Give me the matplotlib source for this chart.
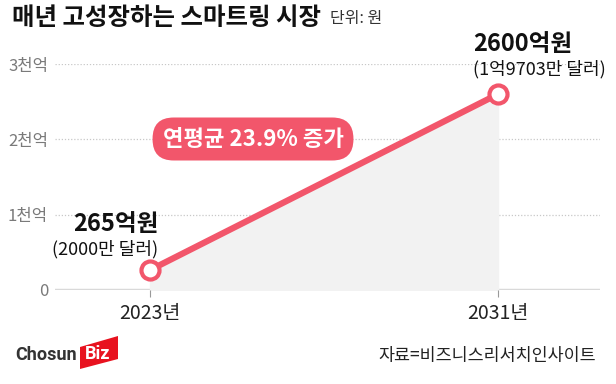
import matplotlib
matplotlib.use('Agg')
import matplotlib.pyplot as plt
from matplotlib.patches import Polygon

plt.rcParams['font.family'] = ['Noto Sans CJK KR', 'DejaVu Sans']

# data (억원)
years = ['2023년', '2031년']
values = [265, 2600]
value_labels = ['265억원', '2600억원']
dollar_labels = ['(2000만 달러)', '(1억9703만 달러)']
y_ticks = [0, 1000, 2000, 3000]
y_tick_labels = ['0', '1천억', '2천억', '3천억']

pink = '#f2566b'
W, H = 616, 384

fig = plt.figure(figsize=(W / 100, H / 100), dpi=100)
ax = fig.add_axes([55 / W, 1 - 290 / H, 545 / W, 226 / H])

x = [0, 1]
ax.set_xlim(-0.273, 1.293)
ax.set_ylim(0, 3000)

# grid
for t in y_ticks[1:]:
    ax.axhline(t, color='#c8c8c8', lw=0.9, ls=(0, (1, 1.5)), zorder=0)
ax.axhline(0, color='#d9d9d9', lw=2.5, zorder=1)

# area + line
ax.fill_between(x, values, 0, color='#f2f2f2', zorder=1)
ax.plot(x, values, color=pink, lw=4.5, zorder=3, solid_capstyle='butt')
ax.plot(x, values, 'o', ms=13, mfc='white', mec=pink, mew=3, zorder=4, clip_on=False)

# ticks
ax.set_yticks(y_ticks)
ax.set_yticklabels(y_tick_labels, fontsize=12, color='#7a7a7a')
ax.set_xticks(x)
ax.set_xticklabels(years, fontsize=14, color='#222222')
ax.tick_params(axis='y', length=0, pad=5)
ax.tick_params(axis='x', length=5, color='#999999', width=0.8, pad=4)
for s in ax.spines.values():
    s.set_visible(False)

# value annotations
ax.annotate(value_labels[0], (x[0], values[0]), xytext=(6, 33), textcoords='offset points',
            ha='right', va='center', fontsize=17, fontweight='bold', color='#111111')
ax.annotate(dollar_labels[0], (x[0], values[0]), xytext=(6, 15), textcoords='offset points',
            ha='right', va='center', fontsize=13, color='#111111')
ax.annotate(value_labels[1], (x[1], values[1]), xytext=(-18, 36), textcoords='offset points',
            ha='left', va='center', fontsize=17, fontweight='bold', color='#111111',
            annotation_clip=False)
ax.annotate(dollar_labels[1], (x[1], values[1]), xytext=(-18, 18), textcoords='offset points',
            ha='left', va='center', fontsize=13, color='#111111', annotation_clip=False)

# growth pill
fig.text(253 / W, 1 - 139 / H, '연평균 23.9% 증가', ha='center', va='center',
         fontsize=16, fontweight='bold', color='white',
         bbox=dict(boxstyle='round,pad=0.45,rounding_size=0.95', fc=pink, ec='none'))

# title
fig.text(12 / W, 1 - 18 / H, '매년 고성장하는 스마트링 시장', ha='left', va='center',
         fontsize=17.6, fontweight='bold', color='#111111')
fig.text(330 / W, 1 - 19 / H, '단위: 원', ha='left', va='center',
         fontsize=11.5, color='#333333')

# footer
fig.text(15 / W, 1 - 355 / H, 'Chosun', ha='left', va='center',
         fontsize=13, fontweight='bold', color='#333333', family='Roboto')
logo = Polygon([(80 / W, 1 - 369 / H), (80 / W, 1 - 347 / H), (118 / W, 1 - 336 / H),
                (118 / W, 1 - 359 / H)], closed=True, transform=fig.transFigure,
               fc='#e8121f', ec='none')
fig.patches.append(logo)
fig.text(98 / W, 1 - 354 / H, 'Biz', ha='center', va='center',
         fontsize=13, fontweight='bold', color='white', family='Roboto')
fig.text(596 / W, 1 - 356 / H, '자료=비즈니스리서치인사이트', ha='right', va='center',
         fontsize=12.5, color='#222222')

fig.savefig('out.png', dpi=100, facecolor='white')
